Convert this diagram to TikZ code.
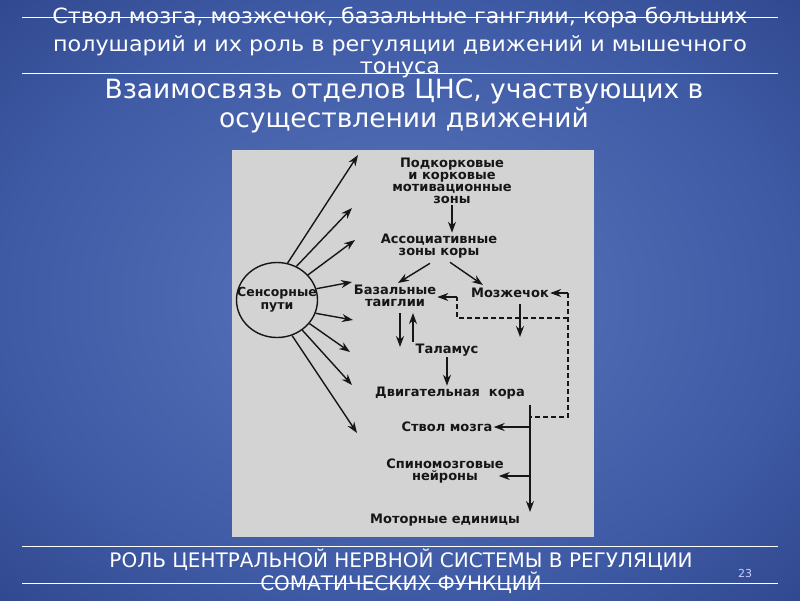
\documentclass[tikz,border=0pt]{standalone}
\usepackage{fontspec}
\setmainfont{DejaVu Sans}
\newfontfamily\headfont[FakeStretch=1.06]{DejaVu Sans}
\usetikzlibrary{arrows.meta,shapes.geometric}
\definecolor{bgin}{RGB}{88,118,190}
\definecolor{bgmid}{RGB}{62,90,164}
\definecolor{bgedge}{RGB}{30,48,114}
\definecolor{bgout}{RGB}{16,26,74}
\definecolor{panel}{RGB}{211,211,211}
\definecolor{ink}{RGB}{22,22,22}
\pgfdeclareradialshading{slidebg}{\pgfpoint{0bp}{0bp}}{color(0bp)=(bgin); color(25bp)=(bgmid); color(50bp)=(bgedge); color(71bp)=(bgout)}
\begin{document}
\begin{tikzpicture}[x=1pt,y=-1pt,>={Stealth[length=11pt,width=8pt]},
  lbl/.style={font=\bfseries\fontsize{13}{12}\selectfont, text=ink, align=center, inner sep=1pt},
  ttl/.style={text=white, align=center, inner sep=0pt},
  rule/.style={white, line width=0.8pt},
  link/.style={->, line width=1.4pt, draw=ink},
  dsh/.style={line width=1.7pt, draw=ink, dash pattern=on 5pt off 3pt}]
\useasboundingbox (0,0) rectangle (800,600);
\shade[shading=slidebg] (0,0) rectangle (800,600);
% titles
\node[ttl, font=\headfont\fontsize{21}{22}\selectfont] (head1) at (400,18) {Ствол мозга, мозжечок, базальные ганглии, кора больших};
\node[ttl, font=\headfont\fontsize{21}{22}\selectfont] (head2) at (400,46) {полушарий и их роль в регуляции движений и мышечного};
\node[ttl, font=\headfont\fontsize{21}{22}\selectfont] (head3) at (400,70) {тонуса};
\draw[rule] (22,17) -- (778,17);
\draw[rule] (22,73) -- (778,73);
\node[ttl, font=\fontsize{26.5}{29}\selectfont] (sub) at (404,106) {Взаимосвязь отделов ЦНС, участвующих в\\осуществлении движений};
% panel
\fill[panel] (232,150) rectangle (594,537);
\node[draw=ink, line width=1.4pt, ellipse, minimum width=81, minimum height=75, inner sep=0pt,
  label={[lbl, font=\bfseries\fontsize{12.5}{13}\selectfont]center:Сенсорные\\пути}] (sens) at (277,300) {};
\foreach \n/\a/\tx/\ty in {1/74/358/155, 2/60/352/208, 3/39/355/240, 4/16/352/282,
  5/-19/353/320, 6/-36/350/352, 7/-50/352/385, 8/-67/357/433}{
  \coordinate (ray\n) at (\tx,\ty);
  \draw[link] (sens.\a) -- (ray\n);
}
\node[lbl] (motiv) at (452,181) {Подкорковые\\и корковые\\мотивационные\\зоны};
\node[lbl] (assoc) at (439,246) {Ассоциативные\\зоны коры};
\node[lbl] (basal) at (395,296) {Базальные\\таиглии};
\node[lbl] (cereb) at (510,293) {Мозжечок};
\node[lbl] (thal) at (447,350) {Таламус};
\node[lbl] (motor) at (450,393) {Двигательная\ \ кора};
\node[lbl] (stem) at (447,427) {Ствол мозга};
\node[lbl] (spinal) at (445,471) {Спиномозговые\\нейроны};
\node[lbl] (units) at (445,520) {Моторные единицы};
\coordinate (trunk) at (530,405);
\coordinate (trunkend) at (530,512);
\coordinate (join) at (530,417);
\coordinate (cr) at (568,293);
\coordinate (bend) at (457,318);
\coordinate (hook) at (457,297);
\coordinate (cdown) at (520,337);
\coordinate (bdown) at (400,347);
\coordinate (bup) at (413,342);
\draw[link] (motiv.south) -- (motiv.south |- assoc.north);
\draw[link] ([xshift=-9,yshift=-4]assoc.south) -- ([xshift=3,yshift=1]basal.north);
\draw[link] ([xshift=11,yshift=-3]assoc.south) -- ([xshift=13,yshift=2]cereb.north west);
\draw[link] ([yshift=-5]bdown |- basal.south) -- (bdown);
\draw[link] (bup) -- ([yshift=-5]bup |- basal.south);
\draw[link] (thal.south) -- (thal.south |- motor.north);
\draw[link] ([yshift=-5]cdown |- cereb.south) -- (cdown);
% cerebellum loop
\draw[link] (cr) -- (cereb.east);
\draw[dsh] (cr) |- (join);
\draw[dsh] (cr |- bend) -| (hook);
\draw[link] (hook) -- (basal.east |- hook);
% descending paths
\draw[link] (trunk) -- (trunkend);
\draw[link] (trunk |- stem) -- (stem.east);
\draw[link] ([yshift=-5]trunk |- spinal) -- ([xshift=-6,yshift=-5]spinal.east);
% footer
\draw[rule] (22,546) -- (778,546);
\node[ttl, font=\fontsize{20}{17}\selectfont] (foot) at (401,571) {РОЛЬ ЦЕНТРАЛЬНОЙ НЕРВНОЙ СИСТЕМЫ В РЕГУЛЯЦИИ\\СОМАТИЧЕСКИХ ФУНКЦИЙ};
\draw[rule] (22,583) -- (778,583);
\node[ttl, text=white!80!blue, font=\fontsize{11}{13}\selectfont] (page) at (745,573) {23};
\end{tikzpicture}
\end{document}
